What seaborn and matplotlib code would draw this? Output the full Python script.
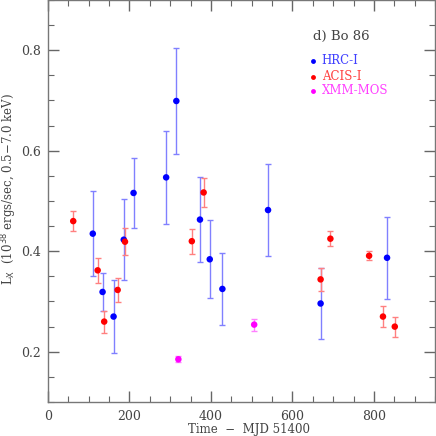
import numpy as np
import pandas as pd
import matplotlib
matplotlib.use("Agg")
import matplotlib.pyplot as plt
import seaborn as sns
from matplotlib.ticker import MultipleLocator

# HRC-I
hrc_t = [110, 134, 161, 186, 210, 290, 315, 373, 397, 428, 540, 669, 832]
hrc_l = [0.435, 0.319, 0.270, 0.423, 0.516, 0.547, 0.699, 0.463, 0.384, 0.325, 0.482, 0.296, 0.387]
hrc_e = [0.084, 0.037, 0.072, 0.080, 0.070, 0.093, 0.105, 0.085, 0.078, 0.072, 0.092, 0.070, 0.082]
# ACIS-I
acis_t = [62, 122, 138, 171, 189, 353, 382, 669, 693, 788, 822, 851]
acis_l = [0.460, 0.362, 0.260, 0.323, 0.419, 0.420, 0.517, 0.344, 0.425, 0.391, 0.270, 0.250]
acis_e = [0.020, 0.025, 0.022, 0.024, 0.027, 0.025, 0.029, 0.023, 0.015, 0.009, 0.021, 0.020]
# XMM-MOS
xmm_t = [320, 506]
xmm_l = [0.185, 0.254]
xmm_e = [0.006, 0.012]

labels = ["HRC-I", "ACIS-I", "XMM-MOS"]
colors = ["#0000ff", "#ff0000", "#ff00ff"]
errcolors = ["#8080ff", "#ff8080", "#ff80ff"]

df = pd.concat([
    pd.DataFrame({"t": hrc_t, "L": hrc_l, "e": hrc_e, "inst": "HRC-I"}),
    pd.DataFrame({"t": acis_t, "L": acis_l, "e": acis_e, "inst": "ACIS-I"}),
    pd.DataFrame({"t": xmm_t, "L": xmm_l, "e": xmm_e, "inst": "XMM-MOS"}),
], ignore_index=True)

sns.set_style("ticks")
plt.rcParams["font.family"] = ["DejaVu Serif"]

fig = plt.figure(figsize=(4.36, 4.36), dpi=100)
ax = fig.add_axes([0.110, 0.078, 0.888, 0.922])

for lab, ec in zip(labels, errcolors):
    d = df[df.inst == lab]
    ax.errorbar(d.t, d.L, yerr=d.e, fmt="none", ecolor=ec, elinewidth=1.0,
                capsize=2.5, capthick=1.0, zorder=2)

sns.scatterplot(data=df, x="t", y="L", hue="inst", hue_order=labels,
                palette=dict(zip(labels, colors)), s=22, edgecolor="none",
                legend=False, ax=ax, zorder=3)

ax.set_xlim(0, 950)
ax.set_ylim(0.1, 0.9)
ax.xaxis.set_major_locator(MultipleLocator(200))
ax.xaxis.set_minor_locator(MultipleLocator(50))
ax.yaxis.set_major_locator(MultipleLocator(0.2))
ax.yaxis.set_minor_locator(MultipleLocator(0.05))
ax.tick_params(which="both", direction="in", top=True, right=True,
               colors="#666666", labelcolor="#444444", labelsize=9)
ax.tick_params(which="major", length=8, width=1.0)
ax.tick_params(axis="x", which="major", pad=6)
ax.tick_params(axis="y", which="major", pad=5)
ax.tick_params(which="minor", length=4, width=0.8)
for s in ax.spines.values():
    s.set_color("#777777")
    s.set_linewidth(1.0)

ax.set_xlabel("Time  \u2212  MJD 51400", fontsize=8.5, color="#444444",
              va="center")
ax.xaxis.set_label_coords(0.519, -0.068)
ax.set_ylabel("L$_{\\rm X}$  (10$^{38}$ ergs/sec, 0.5\u22127.0 keV)", fontsize=8.5,
              color="#444444", va="center")
ax.yaxis.set_label_coords(-0.100, 0.53)

ax.text(650, 0.828, "d) Bo 86", fontsize=9.5, color="#444444", va="center", ha="left")
ys = [0.779, 0.747, 0.719]
for lab, c, y in zip(labels, colors, ys):
    ax.plot([650], [y], "o", color=c, ms=3.5, mec="none")
    ax.text(672, y, lab, fontsize=8.5, color=c, alpha=0.75, va="center", ha="left")

fig.savefig("out.png", dpi=100)
